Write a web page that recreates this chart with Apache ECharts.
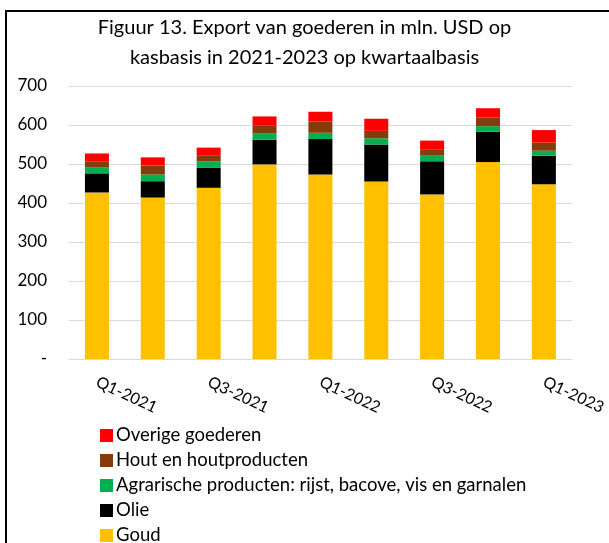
<!DOCTYPE html>
<html>
<head>
<meta charset="utf-8">
<script src="https://cdn.jsdelivr.net/npm/echarts@6/dist/echarts.min.js"></script>
<style>
  html, body { margin: 0; padding: 0; background: #fff; }
  #chart { width: 609px; height: 543px; }
</style>
</head>
<body>
<div id="chart"></div>
<script>
// kwartalen
var categories = ['Q1-2021', 'Q2-2021', 'Q3-2021', 'Q4-2021', 'Q1-2022', 'Q2-2022', 'Q3-2022', 'Q4-2022', 'Q1-2023'];
// waarden in mln. USD
var goud      = [427, 414, 439, 499, 473, 455, 422, 505, 448];
var olie      = [49, 42, 51, 63, 91, 95, 85, 78, 73];
var agrarisch = [16, 17, 17, 16, 16, 16, 16, 14, 13];
var hout      = [15, 23, 14, 20, 29, 19, 15, 22, 21];
var overige   = [20, 21, 21, 24, 25, 31, 22, 24, 32];
var yTicks = [0, 100, 200, 300, 400, 500, 600, 700];

var FONT = 'Lato';
var chart = echarts.init(document.getElementById('chart'));

function bar(name, data, color) {
    return {
        name: name,
        type: 'bar',
        stack: 'totaal',
        barWidth: '43%',
        data: data,
        itemStyle: { color: color }
    };
}

chart.setOption({
    animation: false,
    textStyle: { fontFamily: FONT },
    title: {
        text: 'Figuur 13. Export van goederen in mln. USD op\nkasbasis in 2021-2023 op kwartaalbasis',
        left: 'center',
        top: 8,
        textStyle: { fontFamily: FONT, fontSize: 20, fontWeight: 'normal', color: '#000', lineHeight: 30 }
    },
    graphic: [{
        type: 'rect',
        shape: { x: 6, y: 11, width: 800, height: 800 },
        style: { fill: null, stroke: '#000', lineWidth: 2 },
        silent: true
    }],
    grid: { left: 69, right: 37, top: 86, bottom: 184 },
    legend: {
        orient: 'vertical',
        left: 100,
        top: 426,
        height: 160,
        padding: 0,
        icon: 'rect',
        itemWidth: 13,
        itemHeight: 13,
        itemGap: 6,
        textStyle: { fontFamily: FONT, fontSize: 18.5, lineHeight: 18, color: '#000', padding: [0, 0, 0, -2] },
        data: ['Overige goederen', 'Hout en houtproducten',
               'Agrarische producten: rijst, bacove, vis en garnalen', 'Olie', 'Goud']
    },
    xAxis: {
        type: 'category',
        data: categories,
        axisLine: { lineStyle: { color: '#d9d9d9', width: 1 } },
        axisTick: { show: false },
        axisLabel: {
            interval: 1,
            rotate: -25,
            margin: 22,
            fontFamily: FONT,
            fontSize: 16,
            color: '#000'
        }
    },
    yAxis: {
        type: 'value',
        min: yTicks[0],
        max: yTicks[yTicks.length - 1],
        interval: 100,
        axisLine: { show: false },
        axisTick: { show: false },
        splitLine: { lineStyle: { color: '#d9d9d9', width: 1 } },
        axisLabel: {
            margin: 22,
            fontFamily: FONT,
            fontSize: 17,
            color: '#000',
            formatter: function (v) { return v === 0 ? '-' : String(v); }
        }
    },
    series: [
        bar('Goud', goud, '#FFC000'),
        bar('Olie', olie, '#000000'),
        bar('Agrarische producten: rijst, bacove, vis en garnalen', agrarisch, '#00B050'),
        bar('Hout en houtproducten', hout, '#843C0C'),
        bar('Overige goederen', overige, '#FF0000')
    ]
});
</script>
</body>
</html>
